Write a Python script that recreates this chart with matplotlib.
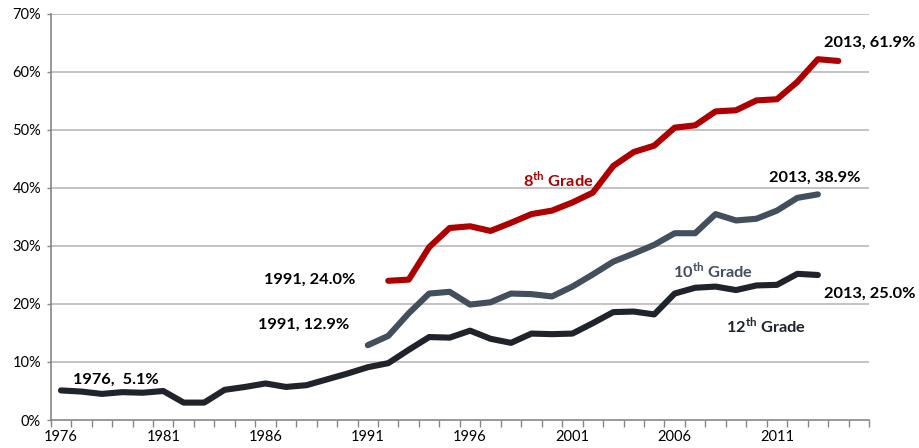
import matplotlib
matplotlib.use('Agg')
import matplotlib.pyplot as plt
from matplotlib.ticker import FixedLocator, FuncFormatter

plt.rcParams['font.family'] = ['Lato', 'DejaVu Sans']
plt.rcParams['mathtext.fontset'] = 'custom'
plt.rcParams['mathtext.rm'] = 'Lato'
plt.rcParams['mathtext.bf'] = 'Lato:bold'

# category axis, 1976 - 2015
years_axis = list(range(1976, 2016))
tick_label_years = [1976, 1981, 1986, 1991, 1996, 2001, 2006, 2011]

years_12th = list(range(1976, 2014))
grade_12th = [5.1, 4.9, 4.5, 4.8, 4.7, 5.0, 3.0, 3.0, 5.2, 5.7, 6.3, 5.7, 6.0, 7.0,
              8.0, 9.1, 9.8, 12.1, 14.3, 14.2, 15.4, 14.0, 13.3, 14.9, 14.8, 14.9,
              16.7, 18.6, 18.7, 18.2, 21.8, 22.8, 23.0, 22.4, 23.2, 23.3, 25.2, 25.0]

years_10th = list(range(1991, 2014))
grade_10th = [12.9, 14.5, 18.4, 21.8, 22.1, 19.9, 20.3, 21.8, 21.7, 21.3, 23.0,
              25.1, 27.3, 28.7, 30.2, 32.2, 32.2, 35.5, 34.4, 34.7, 36.1, 38.3, 38.9]

# plotted one category to the right in the original chart
years_8th = list(range(1992, 2015))
grade_8th = [24.0, 24.2, 29.8, 33.1, 33.4, 32.6, 34.0, 35.5, 36.1, 37.5, 39.2,
             43.8, 46.2, 47.3, 50.4, 50.8, 53.2, 53.4, 55.1, 55.3, 58.3, 62.2, 61.9]

red = '#AE0000'
slate = '#434F5C'
dark = '#1F242B'

fig = plt.figure(figsize=(9.19, 4.48), dpi=100)
ax = fig.add_axes([0.0552, 0.0625, 0.8904, 0.9063])

for y in range(10, 80, 10):
    ax.axhline(y, color='#BEBEBE', lw=1.3, zorder=0)

ax.plot(years_12th, grade_12th, color=dark, lw=4.4, solid_capstyle='round', solid_joinstyle='round')
ax.plot(years_10th, grade_10th, color=slate, lw=4.4, solid_capstyle='round', solid_joinstyle='round')
ax.plot(years_8th, grade_8th, color=red, lw=4.4, solid_capstyle='round', solid_joinstyle='round')

ax.set_xlim(years_axis[0] - 0.5, years_axis[-1] + 0.5)
ax.set_ylim(0, 70)

ax.xaxis.set_major_locator(FixedLocator(tick_label_years))
ax.xaxis.set_minor_locator(FixedLocator([y - 0.5 for y in years_axis] + [years_axis[-1] + 0.5]))
ax.tick_params(axis='x', which='major', length=0, labelsize=10.5, pad=7, colors='black')
ax.tick_params(axis='x', which='minor', length=5, width=1, color='#868686', direction='out')
ax.set_yticks(range(0, 80, 10))
ax.yaxis.set_major_formatter(FuncFormatter(lambda v, p: f'{int(v)}%'))
ax.tick_params(axis='y', length=3, width=1, color='#868686', labelsize=10.5, pad=4)

for side in ['top', 'right']:
    ax.spines[side].set_visible(False)
for side in ['left', 'bottom']:
    ax.spines[side].set_color('#868686')
    ax.spines[side].set_linewidth(1.2)

lab = dict(fontsize=11.8, fontweight='bold', color='black', va='center', ha='left')
ax.text(2013.3, 65.0, '2013, 61.9%', **lab)
ax.text(2010.6, 41.7, '2013, 38.9%', **lab)
ax.text(2013.3, 21.7, '2013, 25.0%', **lab)
ax.text(1990.4, 24.1, '1991, 24.0%', fontsize=11.8, fontweight='bold', color='black', va='center', ha='right')
ax.text(1990.1, 16.4, '1991, 12.9%', fontsize=11.8, fontweight='bold', color='black', va='center', ha='right')
ax.text(1976.6, 6.9, '1976,  5.1%', **lab)

ax.text(1998.6, 41.4, r'8$^{\mathbf{th}}$ Grade', fontsize=11.8, fontweight='bold', color=red, va='center', ha='left')
ax.text(2005.9, 25.8, r'10$^{\mathbf{th}}$ Grade', fontsize=11.8, fontweight='bold', color=slate, va='center', ha='left')
ax.text(2008.5, 16.2, r'12$^{\mathbf{th}}$ Grade', fontsize=11.8, fontweight='bold', color=dark, va='center', ha='left')

fig.savefig('out.png', dpi=100)
